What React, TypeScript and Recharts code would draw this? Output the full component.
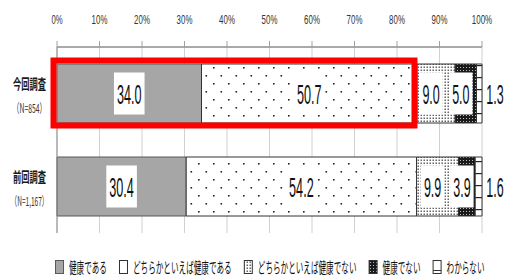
import React from "react";
import {
  BarChart,
  Bar,
  XAxis,
  YAxis,
  CartesianGrid,
  LabelList,
  ReferenceArea,
} from "recharts";

// ---- data ----
const categories = ["今回調査", "前回調査"];
const sampleSizes = ["（N=854）", "（N=1,167）"];
const seriesNames = [
  "健康である",
  "どちらかといえば健康である",
  "どちらかといえば健康でない",
  "健康でない",
  "わからない",
];
const healthy = [34.0, 30.4];
const ratherHealthy = [50.7, 54.2];
const ratherUnhealthy = [9.0, 9.9];
const unhealthy = [5.0, 3.9];
const unknown = [1.3, 1.6];
const tickValues = [0, 10, 20, 30, 40, 50, 60, 70, 80, 90, 100];
const highlightIndex = 0;

const seriesKeys = ["s0", "s1", "s2", "s3", "s4"];
const seriesValues = [healthy, ratherHealthy, ratherUnhealthy, unhealthy, unknown];

const data = categories.map((c, i) => ({
  name: c,
  s0: healthy[i],
  s1: ratherHealthy[i],
  s2: ratherUnhealthy[i],
  s3: unhealthy[i],
  s4: unknown[i],
}));

const fills = [
  "#a6a6a6",
  "url(#patDots)",
  "url(#patFine)",
  "url(#patDark)",
  "url(#patLines)",
];
const strokes = ["#595959", "#333", "#333", "#333", "#333"];

const NUM_FONT = "'Liberation Sans', Arial, sans-serif";
const JP_FONT = "'Noto Sans CJK JP', sans-serif";

const W: Record<string, number> = {
  "0": 0.556, "1": 0.556, "2": 0.556, "3": 0.556, "4": 0.556,
  "5": 0.556, "6": 0.556, "7": 0.556, "8": 0.556, "9": 0.556,
  ".": 0.278, ",": 0.278, "%": 0.889, "N": 0.722, "=": 0.584,
};
const naturalWidth = (s: string, fs: number) => {
  let l = 0;
  for (const ch of s) l += (W[ch] ?? 1) * fs;
  return l;
};

const SText = (p: any) => {
  const { x, y, w, fs, anchor = "start", children, ...rest } = p;
  const s = String(children);
  const sx = w / naturalWidth(s, fs);
  return (
    <text
      transform={`translate(${x},${y}) scale(${sx},1)`}
      x={0}
      y={0}
      fontSize={fs}
      textAnchor={anchor}
      {...rest}
    >
      {s}
    </text>
  );
};

const numTextLen = (s: string) => {
  let l = 0;
  for (const ch of s) l += ch === "." ? 3 : 7.2;
  return l;
};

const XTick = (props: any) => {
  const { x, y, payload } = props;
  const s = `${payload.value}%`;
  return (
    <SText x={x} y={y - 17.5} w={s.length * 4.6 + 2} fs={12.5} anchor="middle" fontFamily={NUM_FONT} fill="#333">
      {s}
    </SText>
  );
};

const YTick = (props: any) => {
  const { y, payload, index } = props;
  const cx = 29.5;
  const n = sampleSizes[index] ?? "";
  return (
    <g>
      <SText x={cx} y={y - 11} w={33} fs={14} anchor="middle" dominantBaseline="central" fontFamily={JP_FONT} fontWeight={700} fill="#1a1a1a">
        {payload.value}
      </SText>
      <SText x={cx} y={y + 14} w={n.length > 8 ? 38 : 34} fs={12.5} anchor="middle" dominantBaseline="central" fontFamily={JP_FONT} fill="#333">
        {n}
      </SText>
    </g>
  );
};

const makeLabel = (outside: boolean) => (props: any) => {
  const { x, y, width, height, value } = props;
  const s = Number(value).toFixed(1);
  const len = numTextLen(s);
  const cy = y + height / 2;
  const cx = outside ? x + width + 13 : x + width / 2 + (width < 45 ? -5 : 0);
  return (
    <g>
      {!outside && <rect x={cx - len / 2 - 3} y={cy - 21} width={len + 6} height={42} fill="#fff" />}
      <SText x={cx} y={cy + 10} w={len} fs={28} anchor="middle" fontFamily={NUM_FONT} fill="#111">
        {s}
      </SText>
    </g>
  );
};

const BAR_SIZE = 59;

const HighlightShape = (props: any) => {
  const { x, y, width, height } = props;
  const barTop = y + (height - BAR_SIZE) / 2;
  return (
    <rect x={x - 3.5} y={barTop - 3.5} width={width + 1} height={BAR_SIZE + 6} fill="none" stroke="#ff0000" strokeWidth={6} />
  );
};

const Swatch = ({ i, x, y }: { i: number; x: number; y: number }) => {
  if (i === 4) {
    return (
      <g>
        <rect x={x} y={y} width={8} height={13} fill="#fff" stroke="#333" strokeWidth={1} />
        <line x1={x} x2={x + 8} y1={y + 10} y2={y + 10} stroke="#333" strokeWidth={1} />
      </g>
    );
  }
  return <rect x={x} y={y} width={8} height={13} fill={fills[i]} stroke={strokes[i]} strokeWidth={1} />;
};

const LegendSvg = () => {
  let cur = 55;
  const items = seriesNames.map((name, i) => {
    const ix = cur;
    const tx = ix + 14;
    const tl = name.length * 7.6;
    cur = tx + tl + 12;
    return (
      <g key={name}>
        <Swatch i={i} x={ix + 0.5} y={260.5} />
        <SText x={tx} y={266.5} w={tl} fs={15} dominantBaseline="central" fontFamily={JP_FONT} fill="#111">
          {name}
        </SText>
      </g>
    );
  });
  return (
    <svg width={505} height={277} style={{ position: "absolute", left: 0, top: 0, pointerEvents: "none" }}>
      {items}
    </svg>
  );
};

export default function App() {
  const highlightEnd = healthy[highlightIndex] + ratherHealthy[highlightIndex];
  return (
    <div style={{ position: "absolute", left: 0, top: 0, width: 505, height: 277, background: "#fff" }}>
      <BarChart
        width={505}
        height={277}
        data={data}
        layout="vertical"
        margin={{ top: 17, right: 23, bottom: 44, left: 0 }}
        barSize={BAR_SIZE}
      >
        <defs>
          <pattern id="patDots" width={15} height={16} patternUnits="userSpaceOnUse">
            <rect width={15} height={16} fill="#fff" />
            <rect x={3} y={3} width={1.6} height={1.6} fill="#222" />
            <rect x={10.5} y={11} width={1.6} height={1.6} fill="#222" />
          </pattern>
          <pattern id="patFine" width={3} height={3} patternUnits="userSpaceOnUse">
            <rect width={3} height={3} fill="#fff" />
            <rect x={0.5} y={0.5} width={1.5} height={1.5} fill="#666" />
          </pattern>
          <pattern id="patDark" width={3} height={3} patternUnits="userSpaceOnUse">
            <rect width={3} height={3} fill="#1a1a1a" />
            <rect x={1} y={1} width={1} height={1} fill="#bbb" />
          </pattern>
          <pattern id="patLines" width={10} height={12} patternUnits="userSpaceOnUse">
            <rect width={10} height={12} fill="#fff" />
            <rect x={0} y={5} width={10} height={1.2} fill="#222" />
          </pattern>
        </defs>
        <CartesianGrid horizontal={false} vertical stroke="#d0d0d0" />
        <XAxis
          type="number"
          orientation="top"
          domain={[0, 100]}
          ticks={tickValues}
          height={30}
          tickSize={6}
          tickMargin={0}
          axisLine={{ stroke: "#8c8c8c", strokeWidth: 1.5 }}
          tickLine={{ stroke: "#a0a0a0" }}
          tick={<XTick />}
          interval={0}
        />
        <YAxis type="category" dataKey="name" width={57} axisLine={{ stroke: "#8c8c8c" }} tickLine={false} tick={<YTick />} />
        {seriesKeys.map((k, i) => (
          <Bar key={k} dataKey={k} name={seriesNames[i]} stackId="a" fill={fills[i]} stroke={strokes[i]} strokeWidth={1} isAnimationActive={false}>
            <LabelList dataKey={k} content={makeLabel(i === seriesValues.length - 1)} />
          </Bar>
        ))}
        <ReferenceArea
          x1={0}
          x2={highlightEnd}
          y1={categories[highlightIndex]}
          y2={categories[highlightIndex]}
          ifOverflow="visible"
          shape={<HighlightShape />}
          zIndex={1500}
        />
      </BarChart>
      <LegendSvg />
    </div>
  );
}
